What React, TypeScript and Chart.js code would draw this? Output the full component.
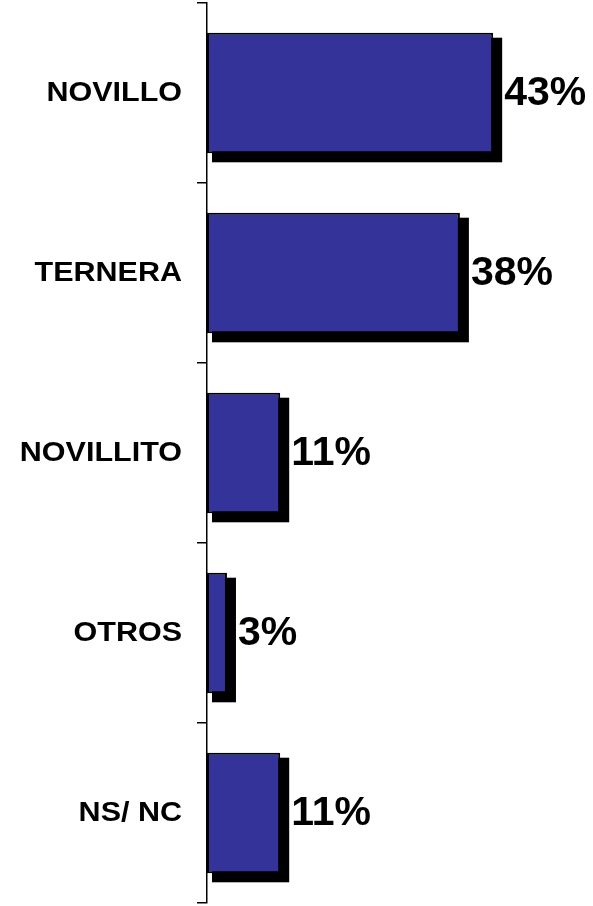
import React, { useEffect, useRef } from "react";
import { Chart, registerables } from "chart.js";

Chart.register(...registerables);

const categories = ["NOVILLO", "TERNERA", "NOVILLITO", "OTROS", "NS/ NC"];
const percentages = [43, 38, 11, 3, 11];
const valueLabels = ["43%", "38%", "11%", "3%", "11%"];

const shadowPlugin = {
  id: "barShadow",
  beforeDatasetsDraw(chart: any) {
    const ctx = chart.ctx;
    const meta = chart.getDatasetMeta(0);
    ctx.save();
    ctx.fillStyle = "#000000";
    meta.data.forEach((el: any) => {
      const p = el.getProps(["x", "y", "base", "height"], true);
      const left = p.base + 5;
      const top = p.y - p.height / 2 + 5;
      const right = p.x + 9;
      const bottom = p.y + p.height / 2 + 9;
      ctx.fillRect(left, top, right - left, bottom - top);
    });
    ctx.restore();
  },
};

const labelPlugin = {
  id: "textLabels",
  afterDraw(chart: any) {
    const ctx = chart.ctx;
    const meta = chart.getDatasetMeta(0);
    const yScale = chart.scales.y;
    ctx.save();
    ctx.fillStyle = "#000000";
    ctx.textBaseline = "middle";
    // category labels (slightly stretched horizontally, like the reference)
    ctx.font = "bold 27px 'Liberation Sans', Arial, sans-serif";
    ctx.textAlign = "right";
    (chart.data.labels as string[]).forEach((lab, i) => {
      const y = yScale.getPixelForValue(i);
      ctx.save();
      ctx.translate(182, y);
      ctx.scale(1.13, 1);
      ctx.fillText(lab, 0, 1);
      ctx.restore();
    });
    // value labels
    ctx.font = "bold 41px 'Liberation Sans', Arial, sans-serif";
    ctx.textAlign = "left";
    meta.data.forEach((el: any, i: number) => {
      const p = el.getProps(["x", "y"], true);
      ctx.fillText(valueLabels[i], p.x + 11, p.y + 1);
    });
    ctx.restore();
  },
};

export default function App() {
  const ref = useRef<HTMLCanvasElement | null>(null);
  useEffect(() => {
    document.body.style.margin = "0";
    const chart = new Chart(ref.current as HTMLCanvasElement, {
      type: "bar",
      data: {
        labels: categories,
        datasets: [
          {
            data: percentages,
            backgroundColor: "#333399",
            borderColor: "#000000",
            borderWidth: 2,
            borderSkipped: false,
            barPercentage: 0.67,
            categoryPercentage: 1,
          },
        ],
      },
      options: {
        indexAxis: "y",
        responsive: false,
        animation: false,
        layout: { padding: { top: 3, bottom: 3, left: 0, right: 0 } },
        plugins: {
          legend: { display: false },
          tooltip: { enabled: false },
        },
        scales: {
          x: {
            display: false,
            min: 0,
            max: 58,
          },
          y: {
            afterFit(scale: any) {
              scale.width = 207;
            },
            ticks: { display: false },
            grid: {
              offset: true,
              drawOnChartArea: false,
              drawTicks: true,
              tickLength: 10,
              color: "#000000",
              lineWidth: 1.5,
            },
            border: { display: true, color: "#000000", width: 1.5 },
          },
        },
      },
      plugins: [shadowPlugin, labelPlugin],
    });
    return () => chart.destroy();
  }, []);
  return (
    <div style={{ position: "absolute", left: 0, top: 0, width: 593, height: 906 }}>
      <canvas ref={ref} width={593} height={906} />
    </div>
  );
}
